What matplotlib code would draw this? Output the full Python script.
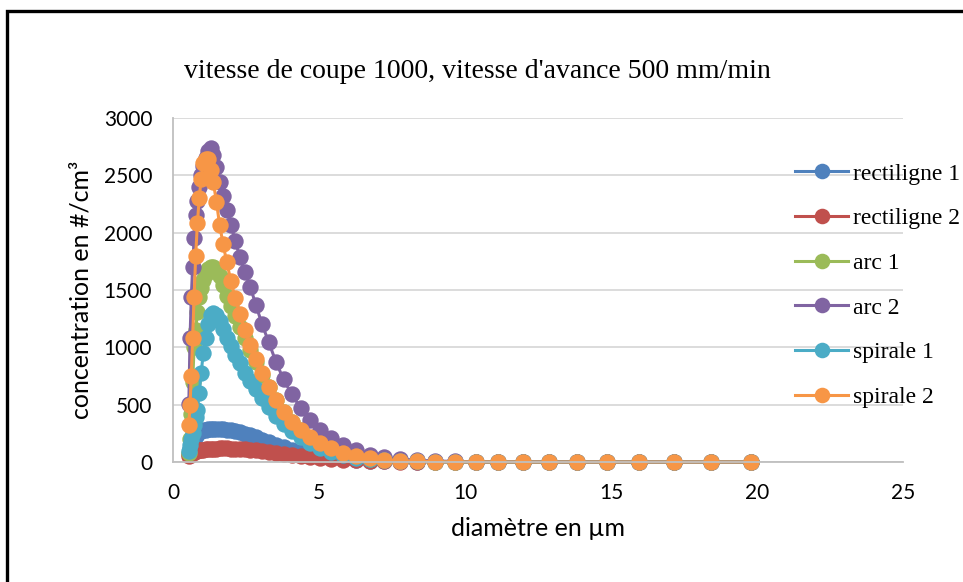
import matplotlib
matplotlib.use("Agg")
from matplotlib import pyplot as plt
from matplotlib.patches import Rectangle

# diameters of the size channels (µm)
diam = [0.542, 0.583, 0.626, 0.673, 0.723, 0.777, 0.835, 0.898, 0.965,
        1.037, 1.114, 1.197, 1.286, 1.382, 1.486, 1.596, 1.715, 1.843, 1.981,
        2.129, 2.288, 2.458, 2.642, 2.839, 3.051, 3.278, 3.523, 3.786,
        4.068, 4.371, 4.698, 5.048, 5.425, 5.829, 6.264, 6.732, 7.234, 7.774,
        8.354, 8.977, 9.647, 10.37, 11.14, 11.97, 12.86, 13.82, 14.86, 15.96,
        17.15, 18.43, 19.81]

rectiligne_1 = [70, 110, 150, 185, 210, 230, 245, 258, 268,
                275, 281, 285, 288, 290, 290, 289, 287, 283, 278,
                270, 260, 248, 233, 215, 195, 174, 152, 130,
                108, 88, 70, 54, 40, 29, 20, 13, 8, 5,
                3, 2, 1, 1, 0, 0, 0, 0, 0, 0, 0, 0, 0]
rectiligne_2 = [50, 62, 72, 80, 87, 93, 98, 102, 106,
                109, 111, 113, 115, 116, 117, 118, 118, 118, 117,
                115, 113, 110, 106, 101, 95, 88, 80, 71,
                62, 53, 44, 36, 28, 21, 15, 10, 7, 4,
                2, 1, 1, 0, 0, 0, 0, 0, 0, 0, 0, 0, 0]
arc_1 = [80, 200, 420, 700, 1000, 1150, 1310, 1440, 1520,
         1590, 1640, 1680, 1700, 1700, 1670, 1620, 1540, 1450, 1360,
         1270, 1180, 1080, 980, 870, 760, 650, 540, 440,
         350, 275, 210, 155, 110, 75, 50, 30, 18, 10,
         6, 3, 2, 1, 1, 0, 0, 0, 0, 0, 0, 0, 0]
arc_2 = [510, 1080, 1440, 1700, 1950, 2150, 2280, 2400, 2500,
         2580, 2650, 2710, 2740, 2680, 2570, 2440, 2320, 2200, 2070,
         1930, 1790, 1660, 1530, 1370, 1200, 1045, 875, 720,
         590, 470, 365, 280, 205, 148, 102, 65, 42, 25,
         15, 9, 5, 3, 2, 1, 1, 0, 0, 0, 0, 0, 0]
spirale_1 = [100, 150, 200, 250, 320, 390, 450, 600, 780,
             950, 1080, 1200, 1280, 1300, 1280, 1230, 1160, 1080, 1010,
             935, 860, 780, 710, 635, 560, 480, 405, 335,
             270, 215, 165, 122, 88, 58, 38, 24, 14, 8,
             5, 3, 2, 1, 1, 0, 0, 0, 0, 0, 0, 0, 0]
spirale_2 = [320, 500, 750, 1080, 1440, 1800, 2080, 2300, 2470,
             2610, 2640, 2640, 2550, 2440, 2270, 2070, 1900, 1740, 1580,
             1430, 1290, 1150, 1020, 900, 775, 655, 540, 440,
             350, 278, 220, 163, 118, 78, 55, 32, 18, 10,
             6, 3, 2, 1, 1, 0, 0, 0, 0, 0, 0, 0, 0]

labels = ['rectiligne 1', 'rectiligne 2', 'arc 1', 'arc 2', 'spirale 1', 'spirale 2']
series = [rectiligne_1, rectiligne_2, arc_1, arc_2, spirale_1, spirale_2]
colors = ['#4F81BD', '#C0504D', '#9BBB59', '#8064A2', '#4BACC6', '#F79646']

sans = ['Lato', 'DejaVu Sans']
serif = ['Liberation Serif', 'DejaVu Serif']

fig = plt.figure(figsize=(9.63, 5.82), dpi=100)
ax = fig.add_axes([173 / 963, 1 - 462 / 582, 730 / 963, 344 / 582])

for vals, lab, col in zip(series, labels, colors):
    ax.plot(diam, vals, color=col, lw=2.2, marker='o', markersize=11.8,
            markeredgewidth=0, label=lab, clip_on=False)

ax.set_xlim(0, 25)
ax.set_ylim(0, 3000)
ax.set_xticks([0, 5, 10, 15, 20, 25])
ax.set_yticks(range(0, 3001, 500))
ax.yaxis.grid(True, color='#d9d9d9', lw=1.3)
ax.set_axisbelow(True)
for s in ['top', 'right']:
    ax.spines[s].set_visible(False)
for s in ['left', 'bottom']:
    ax.spines[s].set_color('#bfbfbf')
    ax.spines[s].set_linewidth(1.3)
ax.tick_params(length=0, pad=15)
for t in ax.get_xticklabels() + ax.get_yticklabels():
    t.set_family(sans)
    t.set_fontsize(15)
ax.set_xlabel('diamètre en µm', family=sans, fontsize=18, labelpad=10)
ax.set_ylabel('concentration en #/cm³', family=sans, fontsize=18, labelpad=8)

fig.text(477 / 963, 1 - 72 / 582, "vitesse de coupe 1000, vitesse d'avance 500 mm/min",
         ha='center', va='center', family=serif, fontsize=20)

fig.legend(loc='upper left', bbox_to_anchor=(795 / 963, 1 - 163 / 582),
           frameon=False, prop={'family': serif, 'size': 17},
           borderaxespad=0, borderpad=0, markerscale=0.95,
           handlelength=2.25, handletextpad=0.2, labelspacing=0.98)

# black frame around the chart
fig.add_artist(Rectangle((7 / 963, -0.05), 1.1, 1.05 - 11 / 582,
                         transform=fig.transFigure, fill=False,
                         lw=2.4, ec='black', clip_on=False))

fig.savefig('out.png', dpi=100)
